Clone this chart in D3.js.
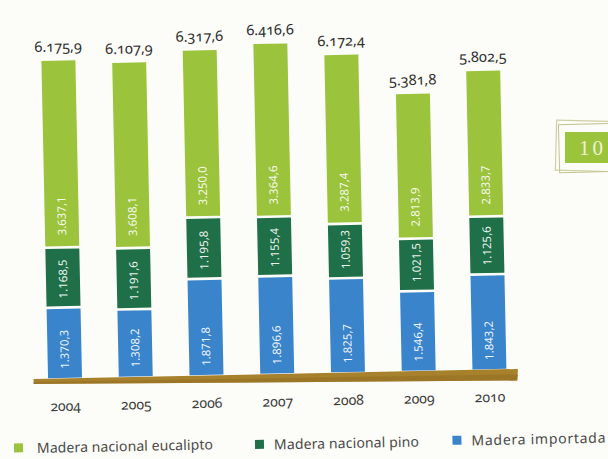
<!DOCTYPE html>
<html>
<head>
<meta charset="utf-8">
<script src="https://cdn.jsdelivr.net/npm/d3@7"></script>
<style>
  html, body { margin: 0; padding: 0; background: #fcfcf8; }
  svg { display: block; }
  .num { font-family: "Noto Sans", "Open Sans", sans-serif; font-variant-numeric: oldstyle-nums; font-feature-settings: "onum" 1; }
</style>
</head>
<body>
<svg id="chart" width="608" height="459"></svg>
<script>
// Consumo de madera por origen (miles de m³), 2004–2010
const years = ["2004", "2005", "2006", "2007", "2008", "2009", "2010"];
const eucalipto = [3637.1, 3608.1, 3250.0, 3364.6, 3287.4, 2813.9, 2833.7];
const pino      = [1168.5, 1191.6, 1195.8, 1155.4, 1059.3, 1021.5, 1125.6];
const importada = [1370.3, 1308.2, 1871.8, 1896.6, 1825.7, 1546.4, 1843.2];
const totals    = [6175.9, 6107.9, 6317.6, 6416.6, 6172.4, 5381.8, 5802.5];
const seriesNames = ["Madera nacional eucalipto", "Madera nacional pino", "Madera importada"];

const colors = { importada: "#3a84cc", pino: "#1f7048", eucalipto: "#9cc33c" };
const fmt = v => {
  const [i, d] = v.toFixed(1).split(".");
  return i.replace(/\B(?=(\d{3})+(?!\d))/g, ".") + "," + d;
};

const svg = d3.select("#chart");

// whole composition sits on a slight tilt
const g = svg.append("g").attr("transform", "rotate(-1.2, 300, 373)");

const baseY = 373;
const x = d3.scaleBand().domain(years)
  .range([29.6, 524.85]).paddingInner(0.52).paddingOuter(0.26);
const y = d3.scaleLinear().domain([0, 7000]).range([baseY, baseY - 7000 * 0.0514]);

const rows = years.map((yr, i) => ({ year: yr, importada: importada[i], pino: pino[i], eucalipto: eucalipto[i], total: totals[i] }));
const stack = d3.stack().keys(["importada", "pino", "eucalipto"])(rows);

// ground band
const bx0 = 33.5, bx1 = 518;
g.append("path")
  .attr("d", `M${bx0},${baseY + 0.5} L${bx1},${baseY + 0.5} L${bx1 - 1},${baseY + 12} L${bx0},${baseY + 5.5} Z`)
  .attr("fill", "#a8812d");
g.append("path")
  .attr("d", `M${bx0},${baseY + 3.5} L${bx1},${baseY + 6} L${bx1 - 1},${baseY + 12} L${bx0},${baseY + 5.5} Z`)
  .attr("fill", "#8f6b22").attr("opacity", 0.5);

const labelOffset = { importada: 9, pino: 9, eucalipto: 12 };
const gap = 1.3;

stack.forEach(layer => {
  const key = layer.key;
  const lg = g.append("g");
  lg.selectAll("rect").data(layer).join("rect")
    .attr("x", d => x(d.data.year))
    .attr("width", x.bandwidth())
    .attr("y", d => y(d[1]) + (key === "eucalipto" ? 0 : gap))
    .attr("height", d => {
      const top = y(d[1]) + (key === "eucalipto" ? 0 : gap);
      const bottom = y(d[0]) - (key === "importada" ? 0 : gap);
      return bottom - top;
    })
    .attr("fill", colors[key]);
  lg.selectAll("text").data(layer).join("text")
    .attr("transform", d => `translate(${x(d.data.year) + x.bandwidth() / 2},${y(d[0]) - labelOffset[key]}) rotate(-90)`)
    .attr("dy", "0.36em")
    .attr("font-family", "'Noto Sans', 'Open Sans', sans-serif")
    .attr("font-size", 11.5)
    .attr("fill", "#ffffff")
    .attr("fill-opacity", 0.92)
    .text(d => fmt(d.data[key]));
});

// totals above the bars
g.append("g").selectAll("text").data(rows).join("text")
  .attr("class", "num")
  .attr("x", d => x(d.year) + x.bandwidth() / 2)
  .attr("y", d => y(d.total) - 9)
  .attr("text-anchor", "middle")
  .attr("font-size", 14.5)
  .attr("fill", "#2e2e2e")
  .text(d => fmt(d.total));

// year labels
g.append("g").selectAll("text").data(years).join("text")
  .attr("class", "num")
  .attr("x", d => x(d) + x.bandwidth() / 2)
  .attr("y", 406)
  .attr("text-anchor", "middle")
  .attr("font-size", 14)
  .attr("fill", "#3a3a3a")
  .text(d => d);

// legend
const legendX = [12.5, 253.5, 451];
const legendW = [176, 145, 134];
const legendColors = [colors.eucalipto, colors.pino, colors.importada];
const leg = g.append("g").selectAll("g").data(seriesNames).join("g")
  .attr("transform", (d, i) => `translate(${legendX[i]},${i === 0 ? 447.5 : 449})`);
leg.append("rect")
  .attr("x", 0).attr("y", -10).attr("width", 9).attr("height", 9)
  .attr("fill", (d, i) => legendColors[i]);
leg.append("text")
  .attr("x", (d, i) => i === 0 ? 23 : 19)
  .attr("y", 0)
  .attr("font-family", "'Noto Sans', 'Open Sans', sans-serif")
  .attr("font-size", 14)
  .attr("fill", "#4a4a4a")
  .attr("textLength", (d, i) => legendW[i])
  .attr("lengthAdjust", "spacing")
  .text(d => d);

// page marker at right edge
const deco = svg.append("g");
deco.append("rect").attr("x", 556).attr("y", 121).attr("width", 70).attr("height", 50)
  .attr("fill", "none").attr("stroke", "#cfcfa4").attr("stroke-width", 1.2)
  .attr("transform", "rotate(1.5, 590, 146)");
deco.append("rect").attr("x", 559).attr("y", 124).attr("width", 70).attr("height", 48)
  .attr("fill", "none").attr("stroke", "#c2c28e").attr("stroke-width", 1)
  .attr("transform", "rotate(-1.5, 590, 146)");
deco.append("rect").attr("x", 565).attr("y", 132).attr("width", 50).attr("height", 31)
  .attr("fill", "#9cc33c");
deco.append("text").attr("x", 579).attr("y", 155)
  .attr("font-family", "'Liberation Serif', serif").attr("font-size", 21)
  .attr("letter-spacing", 3)
  .attr("fill", "#eef2d6").text("10");
</script>
</body>
</html>
